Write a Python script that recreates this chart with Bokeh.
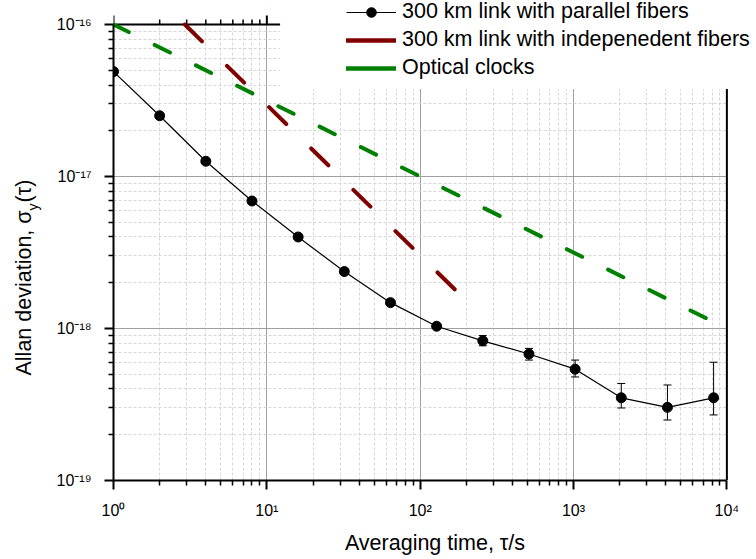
import math
from bokeh.plotting import figure
from bokeh.layouts import row
from bokeh.models import (FixedTicker, ColumnDataSource, Label, Legend, LegendItem,
                          Whisker, TeeHead, Range1d)
from bokeh.embed import file_html
from bokeh.resources import INLINE

# ---------------- data ----------------
tau = [1, 2, 4, 8, 16, 32, 64, 128, 256, 512, 1024, 2048, 4096, 8192]
adev = [4.9e-17, 2.51e-17, 1.26e-17, 6.9e-18, 4.0e-18, 2.37e-18, 1.48e-18,
        1.035e-18, 8.3e-19, 6.8e-19, 5.4e-19, 3.5e-19, 3.03e-19, 3.5e-19]
err_tau = [256, 512, 1024, 2048, 4096, 8192]
err_upper = [9.0e-19, 7.4e-19, 6.2e-19, 4.35e-19, 4.25e-19, 6.0e-19]
err_lower = [7.7e-19, 6.2e-19, 4.8e-19, 3.0e-19, 2.5e-19, 2.7e-19]

indep_tau = [2.92, 169]
indep_adev = [1e-16, 1.8e-18]
clock_tau = [1, 1e4]
clock_adev = [1e-16, 1e-18]

legend_labels = ["300 km link with parallel fibers",
                 "300 km link with indepenedent fibers",
                 "Optical clocks"]

x_major = [1, 10, 100, 1000, 10000]
x_exp = ["0", "1", "2", "3", "4"]
y_major = [1e-19, 1e-18, 1e-17, 1e-16]
y_exp = ["-19", "-18", "-17", "-16"]
x_minor = [m * 10 ** e for e in range(0, 4) for m in range(2, 10)]
y_minor = [m * 10.0 ** e for e in range(-19, -16) for m in range(2, 10)]
top_major = [1, 10]
top_minor = [2, 3, 4, 5, 6, 7, 8, 9]

x_title = "Averaging time, τ/s"
y_title_main = "Allan deviation, σ"
y_title_sub = "y"
y_title_end = "(τ)"

# ---------------- styles / layout constants ----------------
FONT = "Liberation Sans"
RED = "#800000"
GREEN = "#008000"
X_LO, X_HI = 1, 1e4          # axis extent
Y_LO, Y_HI = 1e-19, 1e-16
X_RIGHT = 1.56e4             # frame extends to the right page edge
Y_TOP = 1.439e-16            # frame extends to the top page edge
COVER_X0 = 12.2              # legend box corner (data units)
COVER_Y0 = 3.77e-17
LEFT_W = 42
BOTTOM = 79
FRAME_H = 559 - BOTTOM

sup = str.maketrans("0123456789-", "⁰¹²³⁴⁵⁶⁷⁸⁹⁻")
x_labels = {t: "10" + e.translate(sup) for t, e in zip(x_major, x_exp)}
y_labels = {t: "10" + e.translate(sup) for t, e in zip(y_major, y_exp)}

# ---------------- main figure ----------------
p = figure(width=756 - LEFT_W, height=559, x_axis_type="log", y_axis_type="log",
           x_range=Range1d(X_LO, X_RIGHT), y_range=Range1d(Y_LO, Y_TOP),
           output_backend="svg", toolbar_location=None,
           min_border_left=113 - LEFT_W, min_border_right=0,
           min_border_top=0, min_border_bottom=BOTTOM)
p.outline_line_color = None
p.background_fill_color = "white"
p.border_fill_color = "white"


def style_axis(ax, ticks, minors, labels, bounds):
    ax.ticker = FixedTicker(ticks=ticks, minor_ticks=minors)
    ax.major_label_overrides = labels
    ax.bounds = bounds
    ax.axis_line_width = 2
    ax.axis_line_color = "black"
    ax.major_tick_line_width = 2
    ax.minor_tick_line_width = 1.5
    ax.major_tick_line_color = "black"
    ax.minor_tick_line_color = "black"
    ax.major_tick_in = 0
    ax.major_tick_out = 9
    ax.minor_tick_in = 0
    ax.minor_tick_out = 5
    ax.major_label_text_font = FONT
    ax.major_label_text_font_size = "16px"
    ax.major_label_text_color = "black"


xa = p.xaxis[0]
style_axis(xa, x_major, x_minor, x_labels, (X_LO, X_HI))
xa.major_label_standoff = 12
xa.axis_label = x_title
xa.axis_label_text_font = FONT
xa.axis_label_text_font_size = "21.5px"
xa.axis_label_text_font_style = "normal"
xa.axis_label_text_color = "black"
xa.axis_label_standoff = 9

ya = p.yaxis[0]
style_axis(ya, y_major, y_minor, y_labels, (Y_LO, Y_HI))
ya.major_label_standoff = 13

for g in (p.xgrid[0], p.ygrid[0]):
    g.grid_line_color = "#a0a0a0"
    g.grid_line_width = 1
    g.minor_grid_line_color = "#d6d6d6"
    g.minor_grid_line_width = 1
    g.minor_grid_line_dash = "3 2"

# white areas: above the top axis, behind the legend, right of the right axis
p.quad(left=[0.5, COVER_X0, X_HI], right=[X_RIGHT * 2] * 3,
       bottom=[Y_HI, COVER_Y0, 1e-20], top=[Y_TOP * 2] * 3,
       fill_color="white", line_color=None)

# top axis (short, up to the legend) and right axis line
p.segment(x0=[X_LO], y0=[Y_HI], x1=[COVER_X0], y1=[Y_HI],
          line_color="black", line_width=2)
p.ray(x=top_major, y=[Y_HI] * len(top_major), length=9, angle=math.pi / 2,
      length_units="screen", line_color="black", line_width=2)
p.ray(x=top_minor, y=[Y_HI] * len(top_minor), length=5, angle=math.pi / 2,
      length_units="screen", line_color="black", line_width=1.5)
p.segment(x0=[X_HI], y0=[Y_LO], x1=[X_HI], y1=[COVER_Y0],
          line_color="black", line_width=2)

# ---------------- series ----------------
p.line(clock_tau, clock_adev, line_color=GREEN, line_width=4,
       line_dash="17 29", line_cap="round")
p.line(indep_tau, indep_adev, line_color=RED, line_width=4,
       line_dash="24 35", line_cap="round")
r_line = p.line(tau, adev, line_color="black", line_width=1.2)
r_pts = p.scatter(tau, adev, size=10, fill_color="black", line_color="black")

esrc = ColumnDataSource(dict(base=err_tau, upper=err_upper, lower=err_lower))
p.add_layout(Whisker(source=esrc, base="base", upper="upper", lower="lower",
                     line_color="black", line_width=1,
                     upper_head=TeeHead(size=8, line_color="black", line_width=1),
                     lower_head=TeeHead(size=8, line_color="black", line_width=1)))

leg_red = p.line([1], [1e-20], line_color=RED, line_width=4.5, line_cap="round")
leg_green = p.line([1], [1e-20], line_color=GREEN, line_width=4.5, line_cap="round")

legend = Legend(items=[LegendItem(label=legend_labels[0], renderers=[r_line, r_pts]),
                       LegendItem(label=legend_labels[1], renderers=[leg_red]),
                       LegendItem(label=legend_labels[2], renderers=[leg_green])],
                location=(233, 400), padding=0, spacing=3, margin=0,
                glyph_width=50, glyph_height=24, label_standoff=6,
                label_text_font=FONT, label_text_font_size="21.5px",
                label_text_color="black",
                background_fill_alpha=0, border_line_color=None)
p.add_layout(legend)

# ---------------- left strip with the y title ----------------
q = figure(width=LEFT_W, height=559, x_range=Range1d(0, LEFT_W),
           y_range=Range1d(0, FRAME_H),
           output_backend="svg", toolbar_location=None,
           x_axis_location=None, y_axis_location=None,
           min_border_left=0, min_border_right=0, min_border_top=0,
           min_border_bottom=BOTTOM)
q.outline_line_color = None
q.grid.visible = False
q.border_fill_color = "white"
q.background_fill_color = "white"

start_y = FRAME_H - 375
q.add_layout(Label(x=23.5, y=start_y, angle=math.pi / 2, text=y_title_main,
                   text_align="left", text_baseline="alphabetic",
                   text_font=FONT, text_font_size="21.5px", text_color="black"))
q.add_layout(Label(x=32.5, y=start_y + 165, angle=math.pi / 2, text=y_title_sub,
                   text_align="left", text_baseline="alphabetic",
                   text_font=FONT, text_font_size="14px", text_color="black"))
q.add_layout(Label(x=23.5, y=start_y + 173, angle=math.pi / 2, text=y_title_end,
                   text_align="left", text_baseline="alphabetic",
                   text_font=FONT, text_font_size="21.5px", text_color="black"))

layout = row(q, p, spacing=0)
open("out.html", "w").write(file_html(layout, INLINE))
